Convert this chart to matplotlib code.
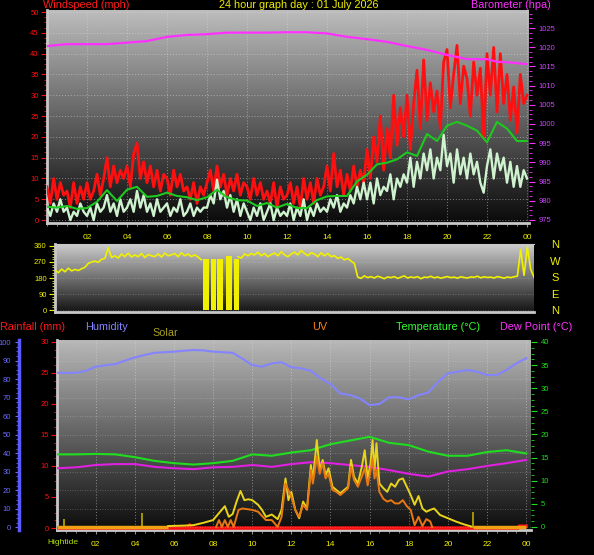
import numpy as np
import matplotlib.pyplot as plt
from matplotlib.ticker import MultipleLocator, FixedLocator

plt.rcParams['font.family'] = ['Liberation Sans', 'DejaVu Sans']

# ---------------- data (read off the screen shot) ----------------
# wind, every 10 minutes (one row = one hour)
wind_hours = np.arange(145) / 6
gust_mph = [
    8, 4, 10, 5, 9, 6,
    7, 3, 9, 4, 8, 5,
    9, 5, 7, 11, 6, 10,
    15, 8, 13, 9, 12, 10,
    13, 8, 16, 18.5, 10, 14,
    9, 13, 8, 12, 7, 11,
    10, 6, 12, 8, 11, 7,
    8, 5, 9, 4, 8, 6,
    9, 12, 7, 13, 8, 11,
    6, 10, 7, 11, 6, 9,
    8, 5, 10, 6, 9, 5,
    7, 4, 9, 3, 8, 5,
    6, 9, 4, 8, 3, 10,
    5, 9, 4, 10, 6, 8,
    13, 7, 16, 8, 12, 6,
    11, 7, 13, 8, 12, 9,
    17, 10, 20, 14, 25, 12,
    22, 15, 30, 18, 27, 20,
    30, 17, 28, 36, 22, 38.5,
    24, 33, 26, 31, 22, 38,
    41, 27, 35, 42, 28, 37,
    34, 25, 38, 30, 36.5, 20,
    40, 30, 41.5, 26, 40, 28,
    35, 24, 32, 21, 35, 28,
    30,
]
speed_mph = [
    3, 1, 4, 2, 5, 2,
    3, 0, 2, 1, 4, 2,
    1, 3, 0, 4, 2, 3,
    6, 2, 4, 1, 5, 2,
    3, 5, 2, 7, 3, 6,
    2, 4, 1, 5, 2, 3,
    4, 1, 3, 2, 5, 1,
    2, 4, 1, 3, 2, 3,
    3, 6, 4, 9.7, 5, 7,
    3, 6, 2, 5, 1, 4,
    2, 0, 3, 1, 4, 0,
    2, 4, 0, 3, 1, 2,
    1, 4, 0, 3, 1, 5,
    0, 3, 1, 4, 2, 3,
    2, 5, 3, 6, 2, 4,
    3, 6, 4, 8, 5, 9,
    5, 9, 4, 10, 6, 8,
    7, 11, 5, 10, 8, 11,
    9, 15, 8, 14, 10, 16,
    12, 17, 10, 15, 12, 20.5,
    13, 16, 9, 17, 11, 15,
    10, 16, 11, 14, 9, 6.6,
    13, 17, 10, 16, 12, 15,
    9, 14, 8, 13, 8, 12,
    10,
]
trend_hours = np.arange(49) / 2
trend_mph = [3.2, 3.0, 3.4, 2.7, 2.9, 4.4, 7.2, 4.6, 7.3, 8.0, 5.6, 5.8, 6.6,
             5.8, 5.5, 4.8, 5.5, 7.3, 5.5, 4.8, 4.7, 3.4, 4.1, 3.0, 3.9, 2.9,
             2.9, 4.8, 5.7, 5.8, 5.8, 9.3, 10.9, 13.4, 13.8, 14.6, 16.3, 15.4,
             20.7, 19.0, 22.7, 23.6, 22.7, 21.5, 18.7, 23.6, 22.0, 19.0, 19.0]

baro_hours = [0, 1, 2, 3, 4, 5, 6, 7, 8, 9, 10, 11, 12, 13, 14, 15, 16, 17,
              18, 19, 20, 21, 22, 22.5, 23, 24]
baro_hpa = [1020.3, 1020.8, 1020.8, 1020.8, 1021.2, 1021.6, 1022.7, 1023.2,
            1023.4, 1023.8, 1023.8, 1023.8, 1023.9, 1023.9, 1023.6, 1022.7,
            1022.1, 1021.4, 1020.3, 1019.3, 1018.0, 1016.9, 1016.9, 1016.2,
            1016.1, 1015.6]

# wind direction, every 10 minutes (nan = calm spell, shown as blocks)
nan = np.nan
dir_deg = [
    225, 210, 230, 215, 235, 220,
    228, 222, 232, 240, 262, 270,
    275, 268, 285, 290, 350, 295,
    305, 292, 315, 300, 320, 298,
    310, 300, 318, 295, 312, 305,
    300, 315, 298, 320, 305, 310,
    318, 300, 322, 305, 315, 300,
    310, 298, 282, nan, nan, nan,
    nan, nan, nan, nan, nan, nan,
    nan, 300, 292, 315, 305, 318,
    310, 325, 305, 318, 300, 312,
    320, 305, 328, 310, 300, 315,
    325, 310, 335, 318, 305, 322,
    315, 300, 322, 305, 318, 300,
    305, 290, 298, 282, 290, 275,
    262, 185, 178, 192, 182, 188,
    180, 190, 184, 176, 186, 182,
    188, 178, 185, 192, 180, 186,
    182, 188, 176, 185, 183, 190,
    181, 186, 179, 184, 188, 182,
    185, 179, 187, 183, 180, 186,
    184, 190, 181, 187, 183, 185,
    180, 188, 184, 179, 186, 182,
    187, 190, 340, 195, 354, 230,
    185,
]
calm_start = [7.43, 7.80, 8.13, 8.55, 8.97]
calm_end = [7.73, 8.07, 8.40, 8.88, 9.20]
calm_top = [285, 285, 285, 305, 285]

# lower panel
hum_hours = np.arange(49) / 2
humidity = [83.4, 83.4, 83.4, 84.5, 86.7, 87.5, 88.1, 90.0, 91.7, 93.0, 94.2,
            94.5, 94.8, 95.3, 95.7, 95.5, 94.8, 94.5, 94.2, 91.0, 87.6, 86.7,
            88.5, 89.1, 86.4, 85.8, 84.5, 80.4, 77.4, 72.3, 71.4, 69.6, 66.0,
            66.6, 70.2, 70.2, 69.1, 71.4, 72.7, 78.6, 83.1, 84.0, 84.9, 84.0,
            82.2, 82.2, 84.9, 88.5, 91.2]
temp_hours = np.arange(25)
temperature = [15.7, 15.7, 15.8, 15.7, 15.1, 14.3, 13.8, 13.5, 13.8, 14.3,
               15.7, 15.4, 16.1, 16.6, 17.9, 18.7, 19.5, 18.2, 17.7, 16.3,
               15.4, 15.4, 16.2, 16.6, 15.9]
dewpoint = [12.7, 12.9, 13.4, 13.6, 13.6, 13.0, 12.7, 12.5, 12.9, 13.0, 13.4,
            13.0, 13.6, 14.0, 13.8, 13.4, 13.0, 12.3, 11.5, 10.9, 12.0, 12.5,
            13.2, 13.8, 14.5]

solar_hours = [5.7, 6.5, 7.0, 7.5, 8.0, 8.3, 8.6, 8.8, 9.0, 9.2, 9.4, 9.6,
               9.8, 10.0, 10.3, 10.5, 10.7, 11.0, 11.3, 11.5, 11.7, 11.85,
               12.0, 12.2, 12.4, 12.6, 12.8, 13.0, 13.1, 13.25, 13.3, 13.45,
               13.6, 13.75, 13.9, 14.1, 14.3, 14.5, 14.7, 14.9, 15.05, 15.2,
               15.4, 15.6, 15.75, 15.9, 16.05, 16.15, 16.25, 16.35, 16.5,
               16.7, 16.9, 17.1, 17.3, 17.5, 17.7, 17.9, 18.1, 18.3, 18.5,
               18.7, 18.9, 19.1, 19.3, 19.6, 20.0, 20.4, 20.8, 21.2]
solar_level = [0.2, 0.3, 0.4, 0.9, 1.5, 3.0, 4.5, 2.2, 2.8, 5.5, 7.8, 5.8,
               6.0, 5.8, 4.8, 3.7, 2.2, 2.7, 1.7, 3.7, 10.5, 5.8, 7.6, 3.7,
               1.9, 5.5, 4.0, 13.4, 10.2, 16.6, 18.8, 12.3, 14.5, 11.2, 12.7,
               8.7, 8.0, 7.3, 8.0, 8.7, 14.5, 10.9, 9.4, 13.0, 16.6, 10.5,
               13.8, 18.8, 12.3, 18.1, 9.4, 8.4, 7.6, 9.4, 8.7, 10.2, 10.5,
               8.7, 6.9, 4.8, 6.7, 4.0, 3.3, 3.7, 4.0, 2.6, 1.9, 1.2, 0.6, 0.1]
uv_hours = [8.15, 8.3, 8.45, 8.6, 8.75, 8.9, 9.05, 9.3, 9.5, 10.0, 10.3, 10.7,
            11.0, 11.3, 11.5, 11.7, 12.0, 12.2, 12.4, 12.6, 12.8, 13.0, 13.1,
            13.3, 13.45, 13.6, 13.75, 13.9, 14.1, 14.3, 14.5, 14.7, 14.9,
            15.05, 15.2, 15.4, 15.6, 15.75, 15.9, 16.05, 16.15, 16.25, 16.35,
            16.5, 16.7, 16.9, 17.1, 17.3, 17.5, 17.7, 17.9, 18.1, 18.3, 18.5,
            18.7, 18.9, 19.1, 19.2]
uv_level = [0, 1.5, 0, 1.5, 0, 1.5, 0, 3.7, 4.0, 3.7, 3.3, 1.5, 1.5, 0, 2.2,
            9.4, 6.5, 3.7, 2.2, 4.8, 3.7, 12.3, 9.4, 15.2, 11.5, 13.8, 10.5,
            11.5, 8.0, 7.6, 6.9, 7.6, 8.4, 13.0, 10.2, 8.7, 10.9, 12.7, 9.0,
            12.3, 14.8, 10.5, 12.3, 7.6, 6.1, 5.5, 5.8, 5.1, 5.1, 5.8, 4.5,
            3.7, 0.4, 2.2, 0.2, 1.7, 1.2, 0]
uv_night_start = [0.0, 21.3]
uv_night_end = [5.7, 24.0]

rain_hours = [0, 6.75, 6.8, 6.85, 23.6, 23.65, 24]
rain_mm = [0, 0, 0.5, 0, 0, 0.3, 0.3]
tide_hours = [0.38, 4.35, 21.27]
tide_height = [1.4, 2.5, 2.6]

hour_ticks = list(range(2, 25, 2))
hour_labels = ['%02d' % (h % 24) for h in hour_ticks]

# ---------------- figure ----------------
W, H = 594, 555
fig = plt.figure(figsize=(W / 100, H / 100), dpi=100, facecolor='black')

YEL = '#f0f000'
GRID = dict(color='#e0e0e0', linestyle=(0, (1, 2)), linewidth=0.7, alpha=0.5)


def panel(x0, y0, x1, y1, top, bottom):
    ax = fig.add_axes([x0 / W, 1 - y1 / H, (x1 - x0) / W, (y1 - y0) / H])
    ax.set_facecolor('black')
    shade = np.linspace(top, bottom, 256)[:, None]
    ax.imshow(shade, extent=[0, 1, 0, 1], transform=ax.transAxes, cmap='gray',
              vmin=0, vmax=1, aspect='auto', zorder=0)
    for s in ['top', 'right']:
        ax.spines[s].set_visible(False)
    for s in ['left', 'bottom']:
        ax.spines[s].set_color('#c8c8c8')
        ax.spines[s].set_linewidth(2)
    return ax


def hide_spines(ax):
    for s in ax.spines.values():
        s.set_visible(False)


# --- top: wind + barometer ---
ax1 = panel(47, 10, 529, 223, 0.74, 0.04)
ax1.plot(wind_hours, gust_mph, color='#ff1010', lw=2.0, zorder=3)
ax1.plot(wind_hours, speed_mph, color='#cff2cf', lw=1.7, zorder=4)
ax1.plot(trend_hours, trend_mph, color='#1ec81e', lw=1.5, zorder=5)
ax1.set_xlim(0, 24.1)
ax1.set_ylim(-0.7, 50.5)
ax1.yaxis.set_major_locator(MultipleLocator(5))
ax1.yaxis.set_minor_locator(MultipleLocator(1.25))
ax1.xaxis.set_major_locator(FixedLocator(hour_ticks))
ax1.set_xticklabels(hour_labels)
ax1.xaxis.set_minor_locator(MultipleLocator(0.5))
ax1.tick_params(axis='y', which='both', colors='#ff1010', labelsize=5.5, pad=2)
ax1.tick_params(axis='y', which='major', length=4)
ax1.tick_params(axis='y', which='minor', length=2)
ax1.tick_params(axis='x', which='both', colors='#909090', labelcolor=YEL,
                labelsize=6, length=3, pad=5)
ax1.tick_params(axis='x', which='minor', length=2)
ax1.grid(True, **GRID)

axb = ax1.twinx()
hide_spines(axb)
axb.plot(baro_hours, baro_hpa, color='#ff30ff', lw=1.6)
axb.set_ylim(974.2, 1029.7)
axb.yaxis.set_major_locator(MultipleLocator(5))
axb.yaxis.set_major_formatter('{x:.0f}')
axb.yaxis.set_minor_locator(MultipleLocator(1.25))
axb.tick_params(axis='y', which='both', colors='#ff30ff', labelcolor='#cc44ff',
                labelsize=5.5, pad=3)
axb.tick_params(axis='y', which='major', length=4)
axb.tick_params(axis='y', which='minor', length=2)
axb.set_ylim(974.2, 1029.7)

# --- middle: direction ---
ax2 = panel(55, 244, 534, 312, 0.80, 0.08)
ax2.spines['top'].set_visible(True)
ax2.spines['top'].set_color('#c8c8c8')
ax2.plot(wind_hours, dir_deg, color=YEL, lw=1.2, zorder=3)
ax2.bar(calm_start, calm_top, width=np.subtract(calm_end, calm_start),
        align='edge', color=YEL, zorder=3)
ax2.set_xlim(0, 24)
ax2.set_ylim(-11, 371)
ax2.set_xticks([])
ax2.yaxis.set_major_locator(MultipleLocator(90))
ax2.yaxis.set_minor_locator(MultipleLocator(15))
ax2.tick_params(axis='y', which='both', colors=YEL, labelsize=5.5, pad=2)
ax2.tick_params(axis='y', which='major', length=4)
ax2.tick_params(axis='y', which='minor', length=2)
ax2.grid(True, axis='y', color='#e0e0e0', linestyle=(0, (1, 2)), lw=0.6, alpha=0.35)
for name, y in zip(['N', 'W', 'S', 'E', 'N'], [245, 262, 278, 295, 311]):
    fig.text(555 / W, 1 - y / H, name, color=YEL, fontsize=8,
             ha='center', va='center')

# --- bottom: rain / humidity / temperature / solar / UV ---
ax3 = panel(57, 340, 531, 530, 0.72, 0.05)
ax3.plot(rain_hours, rain_mm, color='#ff1010', lw=2.5, zorder=3)
ax3.vlines(tide_hours, 0, tide_height, color='#b0a000', lw=1.3, zorder=3)
ax3.set_xlim(0.02, 24.25)
ax3.set_ylim(-0.32, 30.3)
ax3.yaxis.set_major_locator(MultipleLocator(5))
ax3.yaxis.set_minor_locator(MultipleLocator(1.25))
ax3.tick_params(axis='y', which='both', colors='#ff1010', labelsize=5.5, pad=2)
ax3.tick_params(axis='y', which='major', length=4)
ax3.tick_params(axis='y', which='minor', length=2)
ax3.xaxis.set_major_locator(FixedLocator(hour_ticks))
ax3.set_xticklabels(hour_labels)
ax3.xaxis.set_minor_locator(MultipleLocator(0.5))
ax3.tick_params(axis='x', which='both', colors='#909090', labelcolor=YEL,
                labelsize=6, length=3, pad=5)
ax3.tick_params(axis='x', which='minor', length=2)
ax3.grid(True, axis='x', **GRID)

axh = ax3.twinx()
hide_spines(axh)
axh.spines['left'].set_visible(True)
axh.spines['left'].set_position(('outward', 27))
axh.spines['left'].set_color('#5a5aff')
axh.spines['left'].set_linewidth(2.5)
axh.yaxis.set_ticks_position('left')
axh.yaxis.set_label_position('left')
axh.plot(hum_hours, humidity, color='#8484ff', lw=1.5)
axh.set_ylim(-1.35, 101.1)
axh.yaxis.set_major_locator(MultipleLocator(10))
axh.yaxis.set_minor_locator(MultipleLocator(2.5))
axh.tick_params(axis='y', which='both', colors='#6a6aff', labelsize=5.5, pad=3)
axh.tick_params(axis='y', which='major', length=3)
axh.tick_params(axis='y', which='minor', length=2)
axh.grid(True, axis='y', color='#e0e0e0', linestyle=(0, (1, 2)), lw=0.6, alpha=0.35)

axt = ax3.twinx()
hide_spines(axt)
axt.plot(temp_hours, temperature, color='#20dd20', lw=1.5)
axt.plot(temp_hours, dewpoint, color='#e020e0', lw=1.5)
axt.hlines([0, 0], uv_night_start, uv_night_end, color='#f0a010', lw=2.5)
axt.plot(solar_hours, solar_level, color='#e8d41a', lw=1.4)
axt.plot(uv_hours, uv_level, color='#e87812', lw=1.4)
axt.set_ylim(-0.65, 40.43)
axt.yaxis.set_major_locator(MultipleLocator(5))
axt.yaxis.set_minor_locator(MultipleLocator(1.25))
axt.tick_params(axis='y', which='both', colors='#20dd20', labelsize=5.5, pad=3)
axt.tick_params(axis='y', which='major', length=4)
axt.tick_params(axis='y', which='minor', length=2)
ax3.set_xlim(0.02, 24.25)

# --- captions ---
def caption(x, y, s, color):
    fig.text(x / W, 1 - y / H, s, color=color, fontsize=7.8, va='baseline')


caption(43, 8.5, 'Windspeed (mph)', '#ff1a1a')
caption(219, 8.5, '24 hour graph day : 01 July 2026', YEL)
caption(471, 8.5, 'Barometer (hpa)', '#ff30ff')
caption(0, 330.5, 'Rainfall (mm)', '#ff1a1a')
caption(85, 330.5, 'Humidity', '#8484ff')
caption(152, 336, 'Solar', '#a8a020')
caption(312, 330.5, 'UV', '#ff8010')
caption(396, 330.5, 'Temperature (°C)', '#30ff30')
caption(500, 330.5, 'Dew Point (°C)', '#ff30ff')
fig.text(63 / W, 1 - 542 / H, 'Hightide', color='#b0e010', fontsize=6,
         ha='center', va='center')

fig.savefig('out.png', dpi=100, facecolor='black')
